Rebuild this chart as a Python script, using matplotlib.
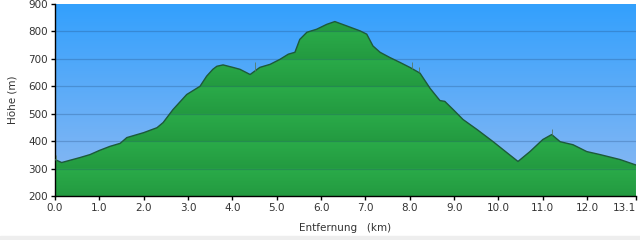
import numpy as np
import matplotlib
matplotlib.use("Agg")
import matplotlib.pyplot as plt
from matplotlib.colors import LinearSegmentedColormap
from matplotlib.patches import Rectangle

# elevation profile (km, m)
dist_km = [0.0, 0.15, 0.56, 0.79, 1.0, 1.24, 1.47, 1.62, 2.0, 2.3, 2.44, 2.66, 2.97,
           3.27, 3.42, 3.56, 3.65, 3.79, 4.01, 4.17, 4.4, 4.62, 4.85, 5.07, 5.26,
           5.41, 5.52, 5.68, 5.9, 6.13, 6.31, 6.58, 6.88, 7.03, 7.17, 7.33, 7.55,
           7.78, 8.0, 8.23, 8.46, 8.68, 8.79, 8.98, 9.2, 9.52, 9.88, 10.19, 10.44,
           10.71, 11.0, 11.2, 11.39, 11.68, 11.99, 12.29, 12.74, 13.1]
elev_m = [333, 322, 340, 351, 366, 381, 392, 413, 431, 449, 468, 515, 570,
          600, 637, 662, 673, 678, 669, 662, 643, 669, 680, 698, 717,
          724, 771, 797, 808, 826, 836, 820, 802, 790, 747, 724, 705,
          687, 669, 648, 592, 548, 545, 515, 479, 442, 398, 358, 326,
          362, 406, 424, 398, 387, 362, 351, 333, 313]
# small measurement spikes
spike_km = [0.03, 4.52, 8.05, 8.2, 11.2]
spike_top = [350, 690, 690, 670, 445]

x_ticks = [0, 1, 2, 3, 4, 5, 6, 7, 8, 9, 10, 11, 12, 13.1]
x_labels = ["0.0", "1.0", "2.0", "3.0", "4.0", "5.0", "6.0", "7.0", "8.0", "9.0",
            "10.0", "11.0", "12.0", "13.1"]
y_ticks = [200, 300, 400, 500, 600, 700, 800, 900]

fig = plt.figure(figsize=(6.4, 2.4), dpi=100)
fig.patches.append(Rectangle((0, 0), 1, 0.018, transform=fig.transFigure,
                             color="#eeeeee", zorder=0))
ax = fig.add_axes([0.0859, 0.1833, 0.9078, 0.80])
x0, x1, y0, y1 = 0, 13.1, 200, 900

# sky gradient
sky = LinearSegmentedColormap.from_list("sky", ["#8fbaf2", "#33a0fd"])
ax.imshow(np.linspace(0, 1, 256)[:, None], origin="lower", aspect="auto",
          extent=[x0, x1, y0, y1], cmap=sky, zorder=0)

# green fill with banded shading per 100 m
yy = np.linspace(y0, y1, 700)
band = ((yy - y0) % 100) / 100.0
shade = 0.55 + 0.45 * band
grass = LinearSegmentedColormap.from_list("grass", ["#1b8536", "#2aab49"])
img = ax.imshow(shade[:, None], origin="lower", aspect="auto",
                extent=[x0, x1, y0, y1], cmap=grass, vmin=0, vmax=1, zorder=1)
poly = ax.fill_between(dist_km, elev_m, y0, color="none", lw=0)
img.set_clip_path(poly.get_paths()[0], transform=ax.transData)

for yv in y_ticks[1:-1]:
    ax.axhline(yv, color="#1a3d6a", alpha=0.25, lw=0.9, zorder=2)
ax.plot(dist_km, elev_m, color="#1d5a3a", lw=1.0, zorder=3)
ax.vlines(spike_km, [np.interp(k, dist_km, elev_m) for k in spike_km], spike_top,
          color="#557a66", lw=0.6, zorder=3)

ax.set_xlim(x0, x1)
ax.set_ylim(y0, y1)
ax.set_xticks(x_ticks)
ax.set_xticklabels(x_labels)
ax.get_xticklabels()[-1].set_horizontalalignment("right")
ax.set_yticks(y_ticks)
for s in ["top", "right"]:
    ax.spines[s].set_visible(False)
for s in ["left", "bottom"]:
    ax.spines[s].set_linewidth(1.0)
ax.tick_params(direction="out", length=3, width=1, labelsize=7.5, colors="black",
               labelcolor="#333333", pad=2)
ax.set_xlabel("Entfernung   (km)", fontsize=7.5, color="#333333", labelpad=7)
ax.set_ylabel("Höhe (m)", fontsize=7.5, color="#333333", labelpad=8)

fig.savefig("out.png", dpi=100)
